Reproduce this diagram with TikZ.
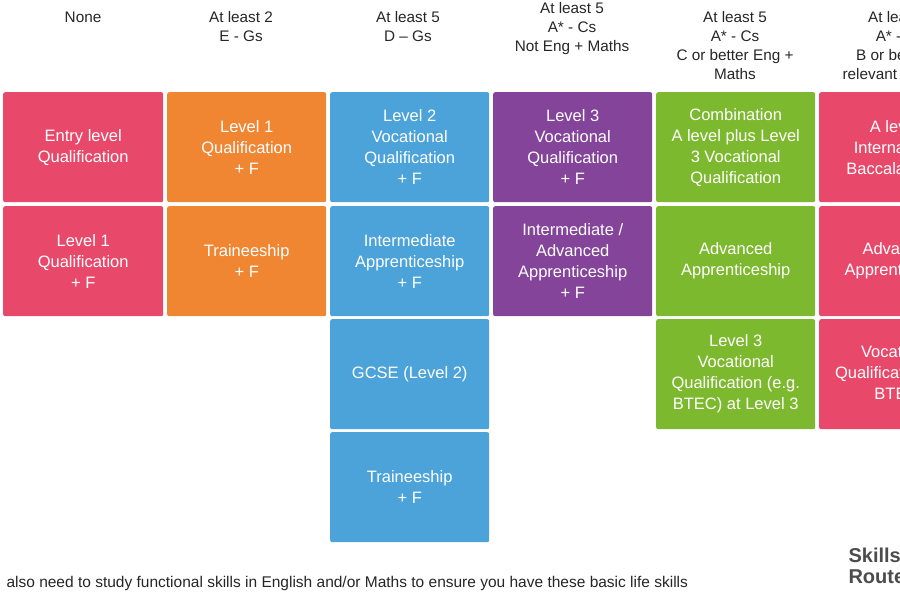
\documentclass[tikz,border=0pt]{standalone}
\usepackage{fontspec}
\setmainfont{Liberation Sans}
\begin{document}
\begin{tikzpicture}[x=1pt,y=-1pt,
 box/.style={rounded corners=2pt,text=white,align=center,minimum width=160pt,minimum height=110pt,inner sep=0pt,font=\fontsize{16.5}{21}\selectfont,anchor=north west},
 hd/.style={align=center,font=\fontsize{15.3}{19}\selectfont,text=black!85},
 pinkc/.style={fill={rgb,255:red,232;green,73;blue,106}},
 orangec/.style={fill={rgb,255:red,240;green,133;blue,50}},
 bluec/.style={fill={rgb,255:red,75;green,163;blue,218}},
 purplec/.style={fill={rgb,255:red,131;green,68;blue,154}},
 greenc/.style={fill={rgb,255:red,125;green,185;blue,46}}]
\useasboundingbox (0,0) rectangle (900,600);
\clip (0,0) rectangle (900,600);
\node[hd,anchor=north] (h1) at (83,8) {None};
\node[hd,anchor=north] (h2) at (241,8) {At least 2\\E - Gs};
\node[hd,anchor=north] (h3) at (408,8) {At least 5\\D -- Gs};
\node[hd,anchor=north] (h4) at (572,-1) {At least 5\\A* - Cs\\Not Eng + Maths};
\node[hd,anchor=north] (h5) at (735,8) {At least 5\\A* - Cs\\C or better Eng +\\Maths};
\node[hd,anchor=north] (h6) at (900,8) {At least 5\\A* - Cs\\B or better in\\relevant subjects};
\node[box,pinkc] (a1) at (3,92) {Entry level\\Qualification};
\node[box,pinkc] (a2) at (3,206) {Level 1\\Qualification\\+ F};
\node[box,orangec,minimum width=159pt] (b1) at (167,92) {Level 1\\Qualification\\+ F};
\node[box,orangec,minimum width=159pt] (b2) at (167,206) {Traineeship\\+ F};
\node[box,bluec,minimum width=159pt] (c1) at (330,92) {Level 2\\Vocational\\Qualification\\+ F};
\node[box,bluec,minimum width=159pt] (c2) at (330,206) {Intermediate\\Apprenticeship\\+ F};
\node[box,bluec,minimum width=159pt] (c3) at (330,319) {GCSE (Level 2)};
\node[box,bluec,minimum width=159pt] (c4) at (330,432) {Traineeship\\+ F};
\node[box,purplec,minimum width=159pt] (d1) at (493,92) {Level 3\\Vocational\\Qualification\\+ F};
\node[box,purplec,minimum width=159pt] (d2) at (493,206) {Intermediate /\\Advanced\\Apprenticeship\\+ F};
\node[box,greenc,minimum width=159pt] (e1) at (656,92) {Combination\\A level plus Level\\3 Vocational\\Qualification};
\node[box,greenc,minimum width=159pt] (e2) at (656,206) {Advanced\\Apprenticeship};
\node[box,greenc,minimum width=159pt] (e3) at (656,319) {Level 3\\Vocational\\Qualification (e.g.\\BTEC) at Level 3};
\node[box,pinkc] (f1) at (819,92) {A level /\\International\\Baccalaureate};
\node[box,pinkc] (f2) at (819,206) {Advanced\\Apprenticeship};
\node[box,pinkc] (f3) at (819,319) {Vocational\\Qualification (e.g.\\BTEC)};
\node[anchor=west,font=\fontsize{15.5}{18}\selectfont,text=black!85] (ft) at (3,583) {also need to study functional skills in English and/or Maths to ensure you have these basic life skills};
\node[anchor=north west,align=left,font=\bfseries\fontsize{20}{21}\selectfont,text=black!70] (logo) at (845,544) {Skills\\Route};
\end{tikzpicture}
\end{document}
